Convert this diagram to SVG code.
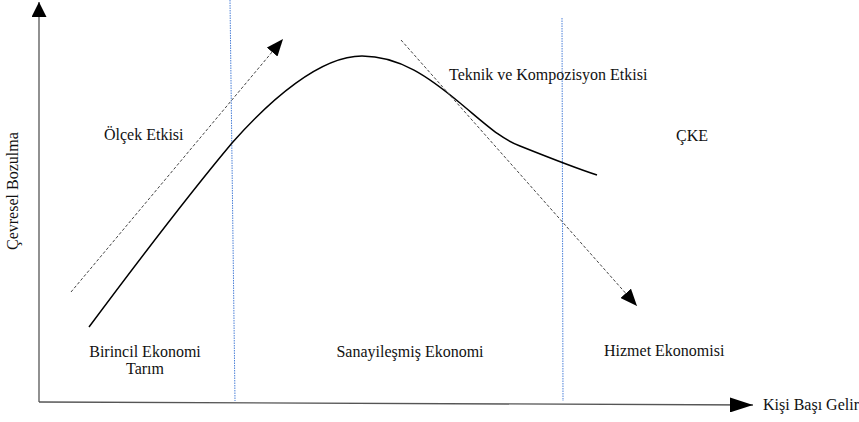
<svg xmlns="http://www.w3.org/2000/svg" width="859" height="422" viewBox="0 0 859 422">
<style>
text{font-family:"Liberation Serif","Times New Roman",serif;font-size:16px;fill:#111}
.axis{stroke:#555;stroke-width:1.3;fill:none}
.div{stroke:#4a7fd8;stroke-width:1;stroke-dasharray:1.5 1;fill:none}
.dash{stroke:#444;stroke-width:1;stroke-dasharray:3 2;fill:none}
.curve{stroke:#000;stroke-width:1.5;fill:none}
</style>
<defs>
<marker id="ahS" markerUnits="userSpaceOnUse" markerWidth="17" markerHeight="14" viewBox="0 0 17 14" refX="17" refY="7" orient="auto"><path d="M0,0 L17,7 L0,14 z" fill="#000"/></marker>
<marker id="ahY" markerUnits="userSpaceOnUse" markerWidth="15" markerHeight="15" viewBox="0 0 15 15" refX="15" refY="7.5" orient="auto"><path d="M0,0 L15,7.5 L0,15 z" fill="#000"/></marker>
<marker id="ahX" markerUnits="userSpaceOnUse" markerWidth="23" markerHeight="15" viewBox="0 0 23 15" refX="23" refY="7.5" orient="auto"><path d="M0,0 L23,7.5 L0,15 z" fill="#000"/></marker>
</defs>
<rect width="859" height="422" fill="#fff"/>
<g id="connectors">
<line id="y-axis" class="axis" x1="39" y1="402" x2="39" y2="2" marker-end="url(#ahY)"/>
<line id="x-axis" class="axis" x1="39" y1="402" x2="753" y2="405" marker-end="url(#ahX)"/>
<line id="divider1" class="div" x1="230" y1="0" x2="235" y2="401"/>
<line id="divider2" class="div" x1="562" y1="18" x2="563" y2="401"/>
<path id="ekc-curve" class="curve" d="M89,327 C130,272 180,205 232,143 C270,100 320,56 362,56 C400,56 430,78 460,103 C490,128 500,138 520,146 C545,156 575,168 597,175"/>
<line id="scale-arrow" class="dash" x1="71" y1="292" x2="283" y2="39" marker-end="url(#ahS)"/>
<line id="tech-arrow" class="dash" x1="401" y1="40" x2="637" y2="306" marker-end="url(#ahS)"/>
</g>
<g id="label-y"><text transform="translate(18,250) rotate(-90)">Çevresel Bozulma</text></g>
<g id="label-x"><text x="763" y="410">Kişi Başı Gelir</text></g>
<g id="scale-effect"><text x="104" y="140">Ölçek Etkisi</text></g>
<g id="tech-effect"><text x="449" y="80">Teknik ve Kompozisyon Etkisi</text></g>
<g id="cke"><text x="676" y="141">ÇKE</text></g>
<g id="primary"><text x="145" y="357" text-anchor="middle">Birincil Ekonomi</text><text x="145" y="374" text-anchor="middle">Tarım</text></g>
<g id="industrial"><text x="410" y="357" text-anchor="middle">Sanayileşmiş Ekonomi</text></g>
<g id="service"><text x="604" y="356">Hizmet Ekonomisi</text></g>
</svg>
